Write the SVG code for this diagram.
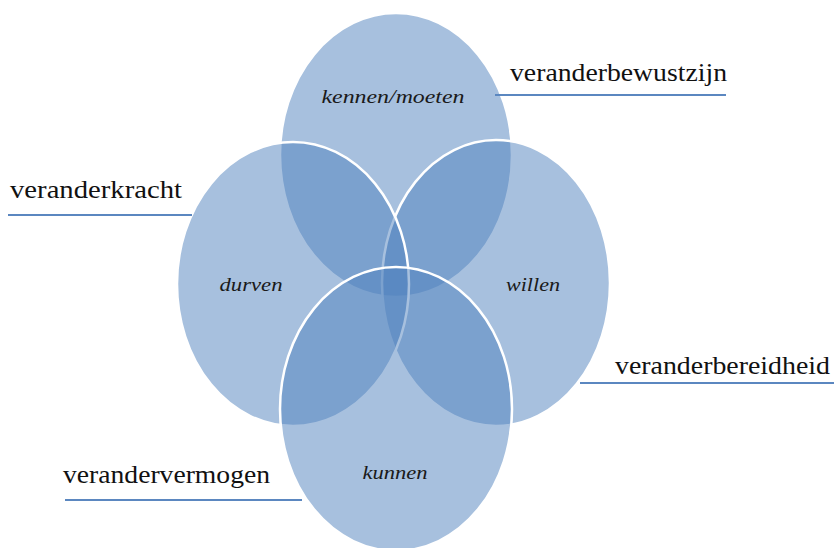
<svg xmlns="http://www.w3.org/2000/svg" width="834" height="548" viewBox="0 0 834 548">
<style>
.c{fill:#4F81BD;fill-opacity:0.5;stroke:#ffffff;stroke-width:2.5}
.in{font-family:"Liberation Serif",serif;font-style:italic;font-size:19px;fill:#1a1a1a;text-anchor:middle}
.out{font-family:"Liberation Serif",serif;font-size:25px;fill:#111111}
.ln{stroke:#5B87C0;stroke-width:2;fill:none}
</style>
<rect width="834" height="548" fill="#ffffff"/>
<g id="node-kennen">
<ellipse class="c" cx="396" cy="155" rx="116" ry="142"/>
</g>
<g id="node-willen">
<ellipse class="c" cx="496" cy="283" rx="114" ry="143"/>
</g>
<g id="node-durven">
<ellipse class="c" cx="293" cy="284" rx="116" ry="142"/>
</g>
<g id="node-kunnen">
<ellipse class="c" cx="396" cy="409" rx="116" ry="142"/>
</g>
<g id="labels-inner">
<text class="in" x="393" y="103" textLength="143" lengthAdjust="spacingAndGlyphs">kennen/moeten</text>
<text class="in" x="251" y="291" textLength="63" lengthAdjust="spacingAndGlyphs">durven</text>
<text class="in" x="533" y="291" textLength="54" lengthAdjust="spacingAndGlyphs">willen</text>
<text class="in" x="395" y="479" textLength="65" lengthAdjust="spacingAndGlyphs">kunnen</text>
</g>
<g id="connectors">
<line class="ln" x1="495" y1="95" x2="726" y2="95"/>
<line class="ln" x1="8" y1="215" x2="192" y2="215"/>
<line class="ln" x1="580" y1="383" x2="834" y2="383"/>
<line class="ln" x1="65" y1="500" x2="302" y2="500"/>
</g>
<g id="labels-outer">
<text class="out" x="510" y="81" textLength="217" lengthAdjust="spacingAndGlyphs">veranderbewustzijn</text>
<text class="out" x="10" y="198" textLength="172" lengthAdjust="spacingAndGlyphs">veranderkracht</text>
<text class="out" x="615" y="374" textLength="215" lengthAdjust="spacingAndGlyphs">veranderbereidheid</text>
<text class="out" x="63" y="483" textLength="207" lengthAdjust="spacingAndGlyphs">verandervermogen</text>
</g>
</svg>
